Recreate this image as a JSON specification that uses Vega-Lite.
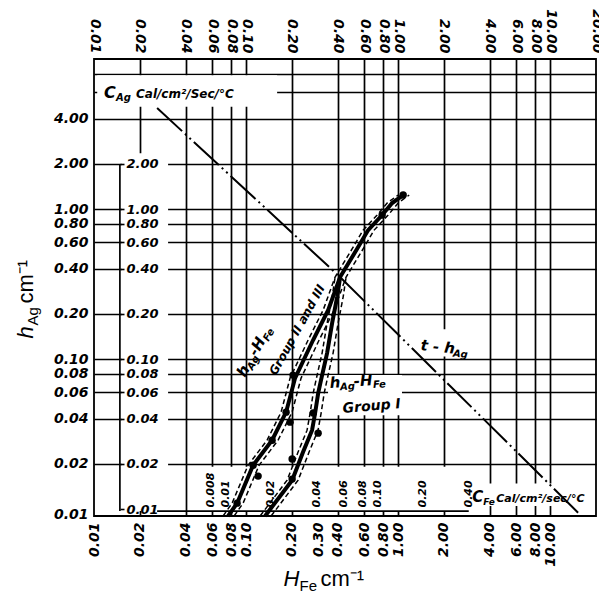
{
 "$schema": "https://vega.github.io/schema/vega-lite/v6.json",
 "width": 502, "height": 457,
 "autosize": "none",
 "padding": {"left": 94, "top": 59, "right": 3, "bottom": 76},
 "background": "white",
 "config": {
  "view": {"stroke": "black", "strokeWidth": 1.8},
  "axis": {"domain": false, "ticks": false, "grid": false, "labelColor": "black", "titleColor": "black", "tickColor": "black", "labelFont": "DejaVu Sans", "labelFontStyle": "italic", "labelFontWeight": "bold", "titleFontWeight": "normal", "titleFont": "Liberation Sans", "gridColor": "black", "gridOpacity": 1, "gridWidth": 1.7, "labelOverlap": false, "labelFlush": false, "labelBound": false},
  "text": {"font": "DejaVu Sans", "fontStyle": "italic", "fontWeight": "bold", "color": "black", "align": "left", "baseline": "alphabetic"}
 },
 "datasets": {
  "tline": [{"x": 0.026, "y": 4.71}, {"x": 0.4153, "y": 0.352}, {"x": 15.7, "y": 0.0092}],
  "curves": [
   {"grp": "II and III", "ord": 1, "x": 0.0762, "y": 0.0090},
   {"grp": "II and III", "ord": 2, "x": 0.0873, "y": 0.01096},
   {"grp": "II and III", "ord": 3, "x": 0.1112, "y": 0.0196},
   {"grp": "II and III", "ord": 4, "x": 0.1483, "y": 0.0288},
   {"grp": "II and III", "ord": 5, "x": 0.1833, "y": 0.0443},
   {"grp": "II and III", "ord": 6, "x": 0.210, "y": 0.0747},
   {"grp": "II and III", "ord": 7, "x": 0.276, "y": 0.134},
   {"grp": "II and III", "ord": 8, "x": 0.3464, "y": 0.212},
   {"grp": "II and III", "ord": 9, "x": 0.4153, "y": 0.352},
   {"grp": "II and III", "ord": 10, "x": 0.546, "y": 0.558},
   {"grp": "II and III", "ord": 11, "x": 0.635, "y": 0.724},
   {"grp": "II and III", "ord": 12, "x": 0.785, "y": 0.912},
   {"grp": "II and III", "ord": 13, "x": 0.913, "y": 1.096},
   {"grp": "II and III", "ord": 14, "x": 1.079, "y": 1.24},
   {"grp": "I", "ord": 1, "x": 0.1334, "y": 0.0090},
   {"grp": "I", "ord": 2, "x": 0.2009, "y": 0.0156},
   {"grp": "I", "ord": 3, "x": 0.237, "y": 0.024},
   {"grp": "I", "ord": 4, "x": 0.2716, "y": 0.0336},
   {"grp": "I", "ord": 5, "x": 0.2845, "y": 0.0437},
   {"grp": "I", "ord": 6, "x": 0.298, "y": 0.0593},
   {"grp": "I", "ord": 7, "x": 0.311, "y": 0.0724},
   {"grp": "I", "ord": 8, "x": 0.341, "y": 0.1096},
   {"grp": "I", "ord": 9, "x": 0.368, "y": 0.1738},
   {"grp": "I", "ord": 10, "x": 0.397, "y": 0.259},
   {"grp": "I", "ord": 11, "x": 0.4153, "y": 0.352}
  ],
  "dots": [
   {"grp": "II and III", "x": 0.0873, "y": 0.01096},
   {"grp": "II and III", "x": 0.1112, "y": 0.0196},
   {"grp": "II and III", "x": 0.120, "y": 0.0166},
   {"grp": "II and III", "x": 0.1483, "y": 0.0288},
   {"grp": "II and III", "x": 0.1833, "y": 0.0443},
   {"grp": "II and III", "x": 0.1948, "y": 0.0380},
   {"grp": "II and III", "x": 0.2037, "y": 0.0782},
   {"grp": "II and III", "x": 0.785, "y": 0.912},
   {"grp": "II and III", "x": 1.079, "y": 1.24},
   {"grp": "I", "x": 0.2009, "y": 0.01585},
   {"grp": "I", "x": 0.2009, "y": 0.0216},
   {"grp": "I", "x": 0.2977, "y": 0.0321},
   {"grp": "I", "x": 0.2766, "y": 0.0437}
  ]
 },
 "resolve": {"axis": {"x": "independent", "y": "independent"}},
 "layer": [
  {"data": {"values": [{}]}, "mark": {"type": "rect", "color": "white", "strokeWidth": 0},
   "encoding": {"x": {"datum": 0.0105, "type": "quantitative", "scale": {"type": "log", "domain": [0.01, 20], "nice": false}, "axis": null}, "x2": {"datum": 0.16},
    "y": {"datum": 4.8, "type": "quantitative", "scale": {"type": "log", "domain": [0.009, 10], "nice": false}, "axis": null}, "y2": {"datum": 7.8}}},
  {"data": {"values": [{}]}, "mark": {"type": "rect", "color": "white", "strokeWidth": 0},
   "encoding": {"x": {"datum": 0.0152, "type": "quantitative", "scale": {"type": "log", "domain": [0.01, 20], "nice": false}, "axis": null}, "x2": {"datum": 0.0307},
    "y": {"datum": 0.0097, "type": "quantitative", "scale": {"type": "log", "domain": [0.009, 10], "nice": false}, "axis": null}, "y2": {"datum": 2.35}}},
  {"data": {"values": [{}]}, "mark": {"type": "rect", "color": "white", "strokeWidth": 0},
   "encoding": {"x": {"datum": 0.0553, "type": "quantitative", "scale": {"type": "log", "domain": [0.01, 20], "nice": false}, "axis": null}, "x2": {"datum": 2.95},
    "y": {"datum": 0.0097, "type": "quantitative", "scale": {"type": "log", "domain": [0.009, 10], "nice": false}, "axis": null}, "y2": {"datum": 0.0192}}},
  {"data": {"values": [{}]}, "mark": {"type": "rect", "color": "white", "strokeWidth": 0},
   "encoding": {"x": {"datum": 2.95, "type": "quantitative", "scale": {"type": "log", "domain": [0.01, 20], "nice": false}, "axis": null}, "x2": {"datum": 19.5},
    "y": {"datum": 0.0105, "type": "quantitative", "scale": {"type": "log", "domain": [0.009, 10], "nice": false}, "axis": null}, "y2": {"datum": 0.0148}}},
  {"data": {"values": [{}]}, "mark": {"type": "rect", "color": "white", "strokeWidth": 0},
   "encoding": {"x": {"datum": 1.33, "type": "quantitative", "scale": {"type": "log", "domain": [0.01, 20], "nice": false}, "axis": null}, "x2": {"datum": 3.0},
    "y": {"datum": 0.104, "type": "quantitative", "scale": {"type": "log", "domain": [0.009, 10], "nice": false}, "axis": null}, "y2": {"datum": 0.158}}},
  {"data": {"values": [{}]}, "mark": {"type": "rect", "color": "white", "strokeWidth": 0},
   "encoding": {"x": {"datum": 0.346, "type": "quantitative", "scale": {"type": "log", "domain": [0.01, 20], "nice": false}, "axis": null}, "x2": {"datum": 1.06},
    "y": {"datum": 0.0422, "type": "quantitative", "scale": {"type": "log", "domain": [0.009, 10], "nice": false}, "axis": null}, "y2": {"datum": 0.0782}}},
  {"data": {"values": [{}]}, "mark": {"type": "rule", "color": "black", "strokeWidth": 1.7},
   "encoding": {"x": {"datum": 0.0148, "type": "quantitative", "scale": {"type": "log", "domain": [0.01, 20], "nice": false}, "axis": null},
    "y": {"datum": 2.0, "type": "quantitative", "scale": {"type": "log", "domain": [0.009, 10], "nice": false}, "axis": null}, "y2": {"datum": 0.0097}}},
  {"data": {"values": [{}]}, "mark": {"type": "rule", "color": "black", "strokeWidth": 1.7},
   "encoding": {"x": {"datum": 0.026, "type": "quantitative", "scale": {"type": "log", "domain": [0.01, 20], "nice": false}, "axis": null}, "x2": {"datum": 2.912},
    "y": {"datum": 0.0097, "type": "quantitative", "scale": {"type": "log", "domain": [0.009, 10], "nice": false}, "axis": null}}},
  {"data": {"name": "tline"},
   "mark": {"type": "line", "color": "black", "strokeWidth": 2, "strokeDash": [34, 4, 2, 4, 2, 4]},
   "encoding": {
    "x": {"field": "x", "type": "quantitative", "scale": {"type": "log", "domain": [0.01, 20], "nice": false},
     "axis": {"orient": "bottom", "values": [0.01, 0.02, 0.04, 0.06, 0.08, 0.1, 0.2, 0.3, 0.4, 0.6, 0.8, 1, 2, 4, 6, 8, 10], "format": ".2f", "labelAngle": 270, "labelFontSize": 14, "labelPadding": 6,
      "title": "H", "titleFontStyle": "italic", "titleFontSize": 22, "titleX": 189, "titleY": 69, "titleAlign": "left", "titleBaseline": "alphabetic"}},
    "y": {"field": "y", "type": "quantitative", "scale": {"type": "log", "domain": [0.009, 10], "nice": false},
     "axis": {"orient": "left", "values": [0.0092, 0.02, 0.04, 0.06, 0.08, 0.1, 0.2, 0.4, 0.6, 0.8, 1, 2, 4], "labelExpr": "datum.value < 0.0095 ? '0.01' : format(datum.value, '.2f')", "labelFontSize": 14, "labelPadding": 6,
      "title": "h", "titleFontStyle": "italic", "titleFontSize": 22, "titleAngle": -90, "titleX": -62, "titleY": 279, "titleAlign": "left", "titleBaseline": "alphabetic"}}
   }},
  {"data": {"name": "curves"},
   "mark": {"type": "line", "color": "black", "strokeWidth": 4},
   "encoding": {
    "x": {"field": "x", "type": "quantitative", "scale": {"type": "log", "domain": [0.01, 20], "nice": false},
     "axis": {"orient": "top", "values": [0.01, 0.02, 0.04, 0.06, 0.08, 0.1, 0.2, 0.4, 0.6, 0.8, 1, 2, 4, 6, 8, 10, 20], "format": ".2f", "labelAngle": 90, "labelFontSize": 14, "labelPadding": 6, "title": null}},
    "y": {"field": "y", "type": "quantitative", "scale": {"type": "log", "domain": [0.009, 10], "nice": false},
     "axis": {"orient": "right", "offset": -476, "zindex": 1, "values": [2, 1, 0.8, 0.6, 0.4, 0.2, 0.1, 0.08, 0.06, 0.04, 0.02, 0.01], "format": ".2f", "ticks": true, "tickSize": 4, "tickWidth": 1.6, "labelFontSize": 13, "labelPadding": 2, "title": null}},
    "detail": {"field": "grp"},
    "order": {"field": "ord"}
   }},
  {"data": {"name": "curves"},
   "mark": {"type": "line", "color": "black", "strokeWidth": 1.5, "strokeDash": [5, 3], "xOffset": -5},
   "encoding": {
    "x": {"field": "x", "type": "quantitative", "scale": {"type": "log", "domain": [0.01, 20], "nice": false},
     "axis": {"orient": "top", "offset": -452, "zindex": 1, "values": [0.05824, 0.0728, 0.1456, 0.2912, 0.4368, 0.5824, 0.728, 1.456, 2.912], "labelExpr": "datum.value < 0.065 ? '0.008' : format(datum.value / 7.28, '.2f')", "labelAngle": 270, "labelFontSize": 11, "labelPadding": 4, "title": null}},
    "y": {"field": "y", "type": "quantitative", "scale": {"type": "log", "domain": [0.009, 10], "nice": false},
     "axis": {"orient": "left", "labels": false, "grid": true, "values": [8, 6, 4, 2, 1, 0.8, 0.6, 0.4, 0.2, 0.1, 0.08, 0.06, 0.04, 0.02],
      "title": "Ag", "titleFontSize": 15, "titleAngle": -90, "titleX": -57, "titleY": 266, "titleAlign": "left", "titleBaseline": "alphabetic"}},
    "detail": {"field": "grp"},
    "order": {"field": "ord"}
   }},
  {"data": {"name": "curves"},
   "mark": {"type": "line", "color": "black", "strokeWidth": 1.5, "strokeDash": [5, 3], "xOffset": 6},
   "encoding": {
    "x": {"field": "x", "type": "quantitative", "scale": {"type": "log", "domain": [0.01, 20], "nice": false},
     "axis": {"orient": "bottom", "labels": false, "grid": true, "values": [0.02, 0.04, 0.06, 0.08, 0.1, 0.2, 0.4, 0.6, 0.8, 1, 2, 4, 6, 8, 10],
      "title": "Fe", "titleFontSize": 15, "titleX": 205, "titleY": 74, "titleAlign": "left", "titleBaseline": "alphabetic"}},
    "y": {"field": "y", "type": "quantitative", "scale": {"type": "log", "domain": [0.009, 10], "nice": false},
     "axis": {"orient": "left", "labels": false, "title": "cm⁻¹", "titleFontSize": 22, "titleAngle": -90, "titleX": -62, "titleY": 244, "titleAlign": "left", "titleBaseline": "alphabetic"}},
    "detail": {"field": "grp"},
    "order": {"field": "ord"}
   }},
  {"data": {"name": "dots"},
   "mark": {"type": "point", "filled": true, "color": "black", "opacity": 1, "size": 55},
   "encoding": {
    "x": {"field": "x", "type": "quantitative", "scale": {"type": "log", "domain": [0.01, 20], "nice": false},
     "axis": {"orient": "bottom", "labels": false, "title": "cm⁻¹", "titleFontSize": 22, "titleX": 226, "titleY": 69, "titleAlign": "left", "titleBaseline": "alphabetic"}},
    "y": {"field": "y", "type": "quantitative", "scale": {"type": "log", "domain": [0.009, 10], "nice": false}, "axis": null}
   }},
  {"data": {"values": [{}]}, "mark": {"type": "text", "text": "C", "fontSize": 16},
   "encoding": {"x": {"datum": 0.01163, "type": "quantitative", "scale": {"type": "log", "domain": [0.01, 20], "nice": false}, "axis": null}, "y": {"datum": 5.5, "type": "quantitative", "scale": {"type": "log", "domain": [0.009, 10], "nice": false}, "axis": null}}},
  {"data": {"values": [{}]}, "mark": {"type": "text", "text": "Ag", "fontSize": 10, "dx": 12, "dy": 3},
   "encoding": {"x": {"datum": 0.01163, "type": "quantitative", "scale": {"type": "log", "domain": [0.01, 20], "nice": false}, "axis": null}, "y": {"datum": 5.5, "type": "quantitative", "scale": {"type": "log", "domain": [0.009, 10], "nice": false}, "axis": null}}},
  {"data": {"values": [{}]}, "mark": {"type": "text", "text": "Cal/cm²/Sec/°C", "fontSize": 12, "dx": 32},
   "encoding": {"x": {"datum": 0.01163, "type": "quantitative", "scale": {"type": "log", "domain": [0.01, 20], "nice": false}, "axis": null}, "y": {"datum": 5.5, "type": "quantitative", "scale": {"type": "log", "domain": [0.009, 10], "nice": false}, "axis": null}}},
  {"data": {"values": [{}]}, "mark": {"type": "text", "text": "t - h", "fontSize": 15, "angle": 6},
   "encoding": {"x": {"datum": 1.395, "type": "quantitative", "scale": {"type": "log", "domain": [0.01, 20], "nice": false}, "axis": null}, "y": {"datum": 0.1148, "type": "quantitative", "scale": {"type": "log", "domain": [0.009, 10], "nice": false}, "axis": null}}},
  {"data": {"values": [{}]}, "mark": {"type": "text", "text": "Ag", "fontSize": 10, "angle": 6, "dx": 33, "dy": 3},
   "encoding": {"x": {"datum": 1.395, "type": "quantitative", "scale": {"type": "log", "domain": [0.01, 20], "nice": false}, "axis": null}, "y": {"datum": 0.1148, "type": "quantitative", "scale": {"type": "log", "domain": [0.009, 10], "nice": false}, "axis": null}}},
  {"data": {"values": [{}]}, "mark": {"type": "text", "text": "h", "fontSize": 15, "angle": -61},
   "encoding": {"x": {"datum": 0.0985, "type": "quantitative", "scale": {"type": "log", "domain": [0.01, 20], "nice": false}, "axis": null}, "y": {"datum": 0.0747, "type": "quantitative", "scale": {"type": "log", "domain": [0.009, 10], "nice": false}, "axis": null}}},
  {"data": {"values": [{}]}, "mark": {"type": "text", "text": "Ag", "fontSize": 10, "angle": -61, "dx": 10, "dy": 3},
   "encoding": {"x": {"datum": 0.0985, "type": "quantitative", "scale": {"type": "log", "domain": [0.01, 20], "nice": false}, "axis": null}, "y": {"datum": 0.0747, "type": "quantitative", "scale": {"type": "log", "domain": [0.009, 10], "nice": false}, "axis": null}}},
  {"data": {"values": [{}]}, "mark": {"type": "text", "text": "-H", "fontSize": 15, "angle": -61, "dx": 24},
   "encoding": {"x": {"datum": 0.0985, "type": "quantitative", "scale": {"type": "log", "domain": [0.01, 20], "nice": false}, "axis": null}, "y": {"datum": 0.0747, "type": "quantitative", "scale": {"type": "log", "domain": [0.009, 10], "nice": false}, "axis": null}}},
  {"data": {"values": [{}]}, "mark": {"type": "text", "text": "Fe", "fontSize": 10, "angle": -61, "dx": 43, "dy": 3},
   "encoding": {"x": {"datum": 0.0985, "type": "quantitative", "scale": {"type": "log", "domain": [0.01, 20], "nice": false}, "axis": null}, "y": {"datum": 0.0747, "type": "quantitative", "scale": {"type": "log", "domain": [0.009, 10], "nice": false}, "axis": null}}},
  {"data": {"values": [{}]}, "mark": {"type": "text", "text": "Group II and III", "fontSize": 12, "angle": -61},
   "encoding": {"x": {"datum": 0.1575, "type": "quantitative", "scale": {"type": "log", "domain": [0.01, 20], "nice": false}, "axis": null}, "y": {"datum": 0.077, "type": "quantitative", "scale": {"type": "log", "domain": [0.009, 10], "nice": false}, "axis": null}}},
  {"data": {"values": [{}]}, "mark": {"type": "text", "text": "h", "fontSize": 15, "angle": -4},
   "encoding": {"x": {"datum": 0.357, "type": "quantitative", "scale": {"type": "log", "domain": [0.01, 20], "nice": false}, "axis": null}, "y": {"datum": 0.0641, "type": "quantitative", "scale": {"type": "log", "domain": [0.009, 10], "nice": false}, "axis": null}}},
  {"data": {"values": [{}]}, "mark": {"type": "text", "text": "Ag", "fontSize": 10, "angle": -4, "dx": 10, "dy": 3},
   "encoding": {"x": {"datum": 0.357, "type": "quantitative", "scale": {"type": "log", "domain": [0.01, 20], "nice": false}, "axis": null}, "y": {"datum": 0.0641, "type": "quantitative", "scale": {"type": "log", "domain": [0.009, 10], "nice": false}, "axis": null}}},
  {"data": {"values": [{}]}, "mark": {"type": "text", "text": "-H", "fontSize": 15, "angle": -4, "dx": 24},
   "encoding": {"x": {"datum": 0.357, "type": "quantitative", "scale": {"type": "log", "domain": [0.01, 20], "nice": false}, "axis": null}, "y": {"datum": 0.0641, "type": "quantitative", "scale": {"type": "log", "domain": [0.009, 10], "nice": false}, "axis": null}}},
  {"data": {"values": [{}]}, "mark": {"type": "text", "text": "Fe", "fontSize": 10, "angle": -4, "dx": 43, "dy": 3},
   "encoding": {"x": {"datum": 0.357, "type": "quantitative", "scale": {"type": "log", "domain": [0.01, 20], "nice": false}, "axis": null}, "y": {"datum": 0.0641, "type": "quantitative", "scale": {"type": "log", "domain": [0.009, 10], "nice": false}, "axis": null}}},
  {"data": {"values": [{}]}, "mark": {"type": "text", "text": "Group I", "fontSize": 14, "angle": -5},
   "encoding": {"x": {"datum": 0.4345, "type": "quantitative", "scale": {"type": "log", "domain": [0.01, 20], "nice": false}, "axis": null}, "y": {"datum": 0.0437, "type": "quantitative", "scale": {"type": "log", "domain": [0.009, 10], "nice": false}, "axis": null}}},
  {"data": {"values": [{}]}, "mark": {"type": "text", "text": "C", "fontSize": 15},
   "encoding": {"x": {"datum": 3.07, "type": "quantitative", "scale": {"type": "log", "domain": [0.01, 20], "nice": false}, "axis": null}, "y": {"datum": 0.01113, "type": "quantitative", "scale": {"type": "log", "domain": [0.009, 10], "nice": false}, "axis": null}}},
  {"data": {"values": [{}]}, "mark": {"type": "text", "text": "Fe", "fontSize": 9, "dx": 11, "dy": 3},
   "encoding": {"x": {"datum": 3.07, "type": "quantitative", "scale": {"type": "log", "domain": [0.01, 20], "nice": false}, "axis": null}, "y": {"datum": 0.01113, "type": "quantitative", "scale": {"type": "log", "domain": [0.009, 10], "nice": false}, "axis": null}}},
  {"data": {"values": [{}]}, "mark": {"type": "text", "text": "Cal/cm²/sec/°C", "fontSize": 11, "dx": 24},
   "encoding": {"x": {"datum": 3.07, "type": "quantitative", "scale": {"type": "log", "domain": [0.01, 20], "nice": false}, "axis": null}, "y": {"datum": 0.01113, "type": "quantitative", "scale": {"type": "log", "domain": [0.009, 10], "nice": false}, "axis": null}}}
 ]
}
